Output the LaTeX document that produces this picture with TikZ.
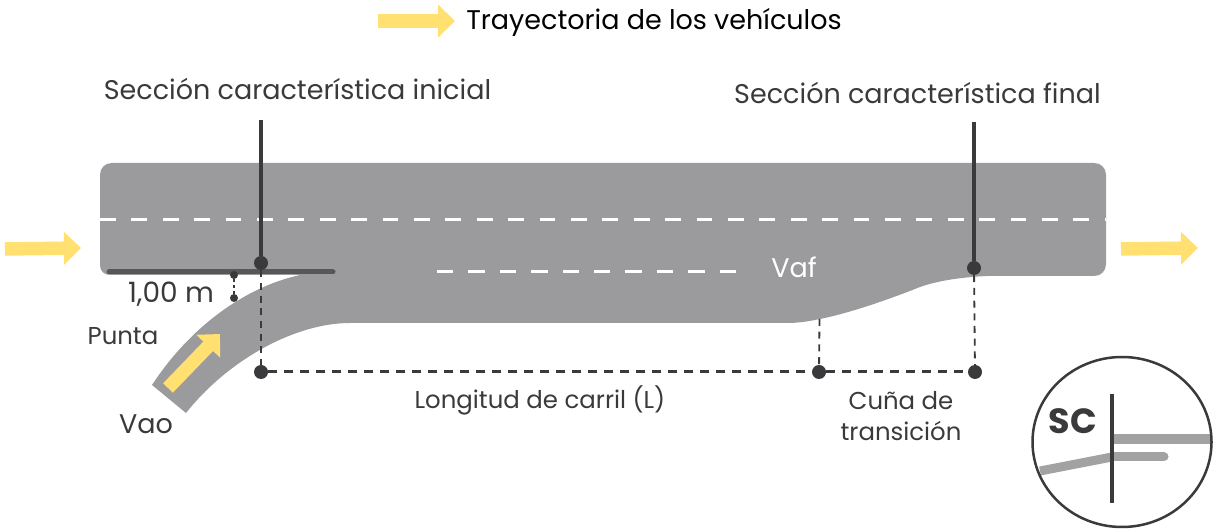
\documentclass[tikz,border=0pt]{standalone}
\usepackage{fontspec}
\setmainfont{Poppins}
\usetikzlibrary{arrows.meta}

\definecolor{roadgray}{HTML}{9B9B9D}
\definecolor{inkdark}{HTML}{3A393B}
\definecolor{bargray}{HTML}{57575A}
\definecolor{lanegray}{HTML}{A2A2A2}
\definecolor{flowyellow}{HTML}{FFE070}

\tikzset{
  flowarrow/.style={line width=13.5pt, flowyellow,
    -{Triangle[length=17pt, width=32pt]}},
  bigdot/.style={circle, fill=inkdark, inner sep=0pt, minimum size=14pt},
  smalldot/.style={circle, fill=inkdark, inner sep=0pt, minimum size=8pt},
  dimline/.style={draw=inkdark, line width=1.8pt, dash pattern=on 7pt off 5.7pt},
  lengthline/.style={draw=inkdark, line width=3pt, dash pattern=on 8.5pt off 7.5pt},
  basetext/.style={text=inkdark, inner sep=0pt, font=\fontsize{24.4pt}{31pt}\selectfont},
  headtext/.style={basetext, font=\fontsize{27pt}{31pt}\selectfont},
}

\begin{document}
\begin{tikzpicture}
\useasboundingbox (0pt,0pt) rectangle (1222pt,532pt);

% road surface
\fill[roadgray] (100pt,357pt) .. controls (100pt,364pt) and (105pt,369pt) .. (112pt,369pt)
  -- (1094pt,369pt) .. controls (1101pt,369pt) and (1106pt,364pt) .. (1106pt,357pt)
  -- (1106pt,268pt) .. controls (1106pt,261pt) and (1101pt,256pt) .. (1094pt,256pt)
  -- (987pt,256pt) .. controls (965pt,255pt) and (940pt,252pt) .. (920pt,245pt)
  .. controls (890pt,233pt) and (850pt,219pt) .. (820pt,213pt)
  .. controls (810pt,211pt) and (800pt,209pt) .. (787pt,209pt)
  -- (350pt,209pt) .. controls (295pt,209pt) and (228pt,172pt) .. (186pt,119pt)
  -- (152pt,147pt) .. controls (190pt,205pt) and (245pt,245pt) .. (300pt,257pt)
  -- (110pt,257pt) .. controls (104pt,257pt) and (100pt,261pt) .. (100pt,267pt) -- cycle;

% lane markings
\coordinate (laneW) at (100pt,312pt);
\coordinate (laneE) at (1106pt,312pt);
\coordinate (auxW) at (437pt,260pt);
\coordinate (auxE) at (738pt,260pt);
\draw[white, line width=3pt, dash pattern=on 15.7pt off 15.7pt] (laneW) -- (laneE);
\draw[white, line width=3pt, dash pattern=on 16.3pt off 15.1pt] (auxW) -- (auxE);

% nose of the lane
\coordinate (noseW) at (109pt,260pt);
\coordinate (noseE) at (333pt,260pt);
\draw[bargray, line width=5pt, line cap=round] (noseW) -- (noseE);

% flow arrows
\coordinate (legendA) at (378pt,511pt);
\coordinate (legendB) at (455pt,511pt);
\coordinate (inA) at (5pt,283pt);
\coordinate (inB) at (81pt,284pt);
\coordinate (outA) at (1121pt,283pt);
\coordinate (outB) at (1198pt,284pt);
\coordinate (rampA) at (168pt,144pt);
\coordinate (rampB) at (220pt,198pt);
\draw[flowarrow] (legendA) -- (legendB);
\draw[flowarrow] (inA) -- (inB);
\draw[flowarrow] (outA) -- (outB);
\draw[flowarrow] (rampA) -- (rampB);

% sections and dimensions
\coordinate (iniTop) at (261pt,412pt);
\coordinate (finTop) at (974pt,410pt);
\node[bigdot] (iniDot) at (261pt,269pt) {};
\node[bigdot] (finDot) at (974pt,264pt) {};
\node[bigdot] (lenA) at (261pt,160pt) {};
\node[bigdot] (lenB) at (819pt,160pt) {};
\node[bigdot] (lenC) at (975pt,160pt) {};
\node[smalldot] (gapA) at (234pt,257pt) {};
\node[smalldot] (gapB) at (234pt,234pt) {};
\coordinate (wedgeTop) at (819.5pt,213pt);

\draw[inkdark, line width=3.5pt] (iniTop) -- (iniDot);
\draw[inkdark, line width=3.5pt] (finTop) -- (finDot);
\draw[dimline] (iniDot) -- (lenA);
\draw[dimline] (finDot) -- (lenC);
\draw[dimline] (wedgeTop) -- (lenB);
\draw[lengthline] (lenA) -- (lenB);
\draw[lengthline] (lenB) -- (lenC);
\draw[inkdark, line width=2pt, dash pattern=on 3pt off 3pt] (gapA) -- (gapB);

% labels
\node[headtext, text=black] (legendT) at (654pt,510pt) {Trayectoria de los vehículos};
\node[headtext] (iniT) at (297.5pt,443pt) {Sección característica inicial};
\node[headtext] (finT) at (917.5pt,439pt) {Sección característica final};
\node[headtext, font=\fontsize{28pt}{31pt}\selectfont] (gapT) at (171pt,238pt) {1,00 m};
\node[basetext] (puntaT) at (123pt,196pt) {Punta};
\node[headtext] (vaoT) at (146pt,108pt) {Vao};
\node[headtext, text=white] (vafT) at (794pt,265pt) {Vaf};
\node[basetext] (longT) at (540pt,132pt) {Longitud de carril (L)};
\node[basetext, align=center] (cunaT) at (901pt,116pt) {Cuña de\\transición};

% detail circle
\coordinate (detC) at (1122pt,90pt);
\coordinate (upA) at (1112pt,93pt);
\coordinate (upB) at (1211pt,93pt);
\coordinate (lowA) at (1040pt,61pt);
\coordinate (lowB) at (1112pt,75pt);
\coordinate (lowC) at (1164pt,75pt);
\coordinate (cutA) at (1112pt,138pt);
\coordinate (cutB) at (1112pt,29pt);
\draw[lanegray, line width=10pt] (upA) -- (upB);
\draw[lanegray, line width=9pt, line cap=round] (lowB) -- (lowC);
\draw[lanegray, line width=9pt] (lowA) -- (lowB);
\draw[inkdark, line width=4pt] (cutA) -- (cutB);
\draw[inkdark, line width=2.5pt] (detC) ellipse [x radius=89.5pt, y radius=85pt];
\node[text=inkdark, inner sep=0pt, font=\fontsize{35pt}{35pt}\selectfont\bfseries] (scT) at (1073pt,111pt) {SC};
\end{tikzpicture}
\end{document}
